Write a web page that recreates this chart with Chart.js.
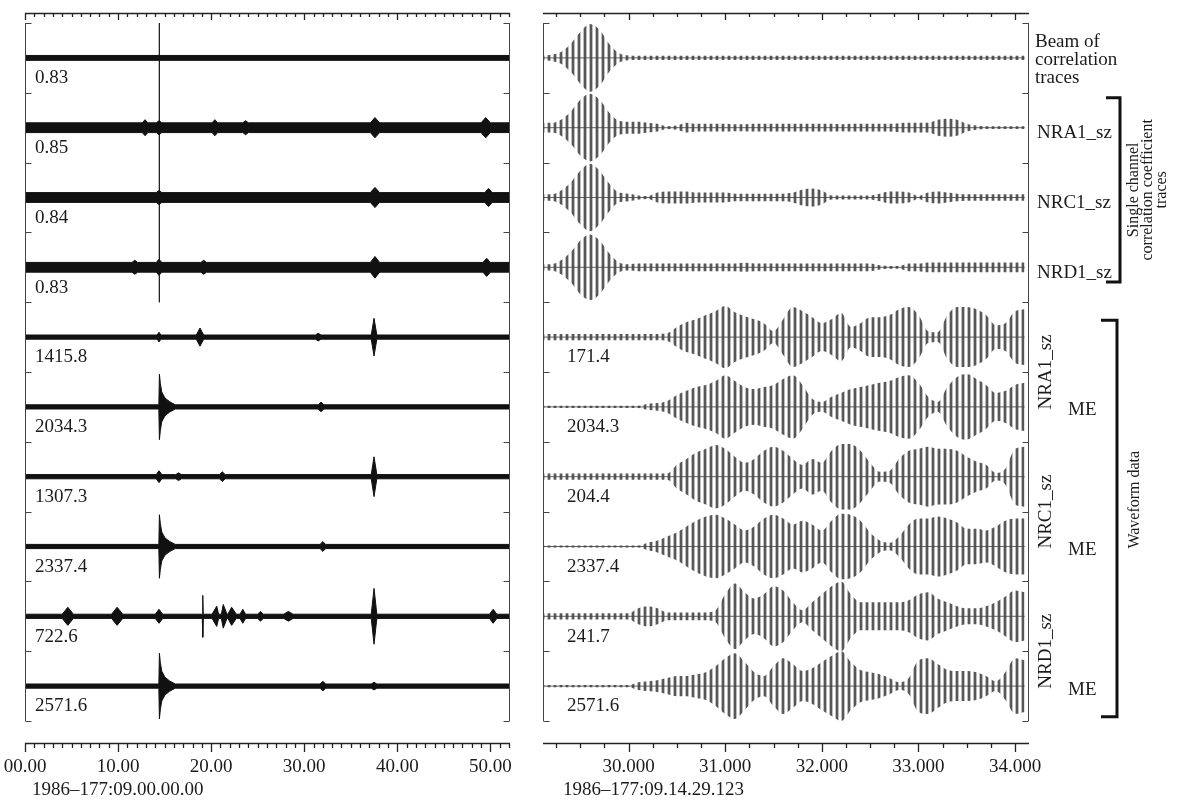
<!DOCTYPE html>
<html>
<head>
<meta charset="utf-8">
<title>Correlation detector traces</title>
<script src="https://cdn.jsdelivr.net/npm/chart.js@4.4.1/dist/chart.umd.min.js"></script>
<style>
  html, body { margin: 0; padding: 0; background: #fff; }
  #wrap { position: relative; width: 1177px; height: 802px; overflow: hidden; }
  canvas { position: absolute; top: 0; }
  #left { left: 0; }
  #right { left: 530px; }
</style>
</head>
<body>
<div id="wrap">
  <canvas id="left" width="530" height="802"></canvas>
  <canvas id="right" width="647" height="802"></canvas>
</div>
<script>

// ---- data: left panel (52 s overview), rows top to bottom ----
const leftLabels = ['0.83', '0.85', '0.84', '0.83', '1415.8', '2034.3', '1307.3', '2337.4', '722.6', '2571.6'];
const leftDate = '1986\u2013177:09.00.00.00';
// background noise level per row (percent of half a row)
const leftNoise = [7, 14, 14, 14, 6, 6, 6, 6, 6, 6];
// short bursts per row: [time, peak amplitude, half width]
const leftBursts = [
    [],
    [[12.9, 23, 0.3], [14.4, 20, 0.3], [20.4, 23, 0.3], [23.7, 20, 0.3], [37.6, 29, 0.5], [49.5, 29, 0.5]],
    [[14.4, 20, 0.3], [37.6, 29, 0.5], [49.8, 26, 0.4]],
    [[11.8, 20, 0.3], [14.4, 23, 0.3], [19.2, 20, 0.3], [37.6, 31, 0.5], [49.6, 26, 0.4]],
    [[14.4, 14, 0.2], [18.8, 26, 0.4], [31.5, 11, 0.3], [37.5, 54, 0.3]],
    [[31.8, 14, 0.3]],
    [[14.4, 17, 0.3], [16.5, 11, 0.3], [21.2, 14, 0.3], [37.5, 57, 0.3]],
    [[32.0, 14, 0.3]],
    [[4.6, 26, 0.6], [9.9, 26, 0.6], [14.4, 20, 0.4], [19.1, 60, 0.05], [20.6, 29, 0.5], [21.3, 34, 0.5],
     [22.2, 26, 0.5], [23.4, 20, 0.3], [25.3, 14, 0.3], [28.3, 14, 0.5], [37.5, 80, 0.3], [50.3, 20, 0.4]],
    [[32.0, 14, 0.3], [37.5, 11, 0.3]]
];
// event onsets per row: [time, peak amplitude]
const leftOnsets = [[], [], [], [], [], [[14.44, 94]], [], [[14.44, 91]], [], [[14.44, 94]]];
// decay of an onset, read from the 2034.3 row: [time after onset, fraction of peak]
const onsetShape = [[-0.06, 0], [0, 1], [0.1, 0.7], [0.25, 0.42], [0.6, 0.22], [1.1, 0.1], [1.7, 0]];
const markerTime = 14.44;
const markerRows = [0, 4];

// ---- data: right panel (zoom on the detection), envelope in percent of half a row ----
const rightLabels = ['', '', '', '', '171.4', '2034.3', '204.4', '2337.4', '241.7', '2571.6'];
const rightDate = '1986\u2013177:09.14.29.123';
const rightTimes = [29.1, 29.2, 29.3, 29.4, 29.5, 29.6, 29.7, 29.8, 29.9, 30.0,
    30.1, 30.2, 30.3, 30.4, 30.5, 30.6, 30.7, 30.8, 30.9, 31.0,
    31.1, 31.2, 31.3, 31.4, 31.5, 31.6, 31.7, 31.8, 31.9, 32.0,
    32.1, 32.2, 32.3, 32.4, 32.5, 32.6, 32.7, 32.8, 32.9, 33.0,
    33.1, 33.2, 33.3, 33.4, 33.5, 33.6, 33.7, 33.8, 33.9, 34.0, 34.1];
const beamEnv = [6, 9, 17, 40, 74, 97, 80, 40, 14, 7, 6, 6, 6, 6, 6, 6, 6, 6, 6, 6,
    6, 6, 6, 6, 6, 6, 6, 6, 6, 6, 6, 6, 6, 6, 6, 6, 6, 6, 6, 6, 6, 6, 6, 6, 6, 6, 6, 6, 6, 6, 6];
const nra1CorrEnv = [14, 14, 23, 46, 80, 97, 80, 43, 20, 17, 17, 14, 11, 4, 6, 14, 11, 11, 11, 11,
    10, 10, 11, 11, 11, 11, 11, 11, 11, 11, 11, 10, 11, 11, 11, 11, 11, 13, 14, 14,
    14, 23, 26, 23, 11, 6, 4, 4, 4, 4, 4];
const nrc1CorrEnv = [9, 9, 20, 43, 77, 97, 77, 40, 14, 11, 6, 4, 14, 17, 17, 17, 14, 14, 14, 14,
    11, 11, 11, 11, 11, 11, 14, 23, 26, 20, 6, 6, 6, 6, 6, 11, 17, 17, 14, 4,
    14, 17, 14, 11, 9, 9, 9, 9, 9, 9, 9];
const nrd1CorrEnv = [9, 9, 20, 43, 77, 94, 77, 40, 14, 9, 11, 11, 11, 11, 11, 11, 11, 11, 11, 11,
    11, 13, 11, 11, 11, 11, 11, 11, 11, 11, 11, 11, 11, 11, 11, 6, 4, 4, 11, 11,
    14, 14, 14, 14, 14, 14, 14, 14, 14, 14, 14];
const nra1WaveEnv = [9, 9, 9, 9, 9, 9, 9, 9, 9, 9, 9, 9, 9, 11, 29, 43, 51, 63, 74, 89,
    71, 60, 51, 40, 17, 51, 86, 74, 57, 40, 51, 69, 29, 40, 57, 57, 63, 80, 86, 63,
    17, 14, 63, 86, 86, 80, 63, 34, 40, 74, 80];
const nra1MeEnv = [3, 3, 3, 3, 3, 3, 3, 3, 3, 3, 3, 9, 11, 17, 34, 46, 57, 63, 74, 91,
    74, 57, 51, 57, 63, 80, 91, 63, 23, 14, 29, 40, 51, 57, 63, 69, 74, 86, 91, 69,
    29, 14, 57, 86, 94, 80, 63, 40, 46, 63, 69];
const nrc1WaveEnv = [9, 9, 9, 9, 9, 9, 9, 9, 9, 9, 9, 9, 9, 9, 34, 51, 69, 80, 91, 80,
    57, 40, 51, 74, 86, 74, 51, 34, 51, 40, 74, 94, 94, 74, 40, 14, 17, 51, 74, 80,
    86, 80, 80, 74, 57, 43, 34, 11, 23, 80, 86];
const nrc1MeEnv = [3, 3, 3, 3, 3, 3, 3, 3, 3, 3, 3, 11, 17, 29, 40, 57, 74, 86, 91, 80,
    63, 46, 57, 80, 91, 80, 63, 74, 63, 46, 74, 94, 91, 74, 40, 17, 11, 29, 63, 80,
    80, 86, 80, 69, 51, 51, 46, 57, 74, 80, 80];
const nrd1WaveEnv = [9, 9, 9, 9, 9, 9, 9, 9, 9, 9, 23, 29, 23, 11, 11, 11, 11, 11, 17, 63,
    94, 69, 51, 63, 86, 74, 40, 17, 40, 63, 86, 100, 63, 40, 40, 40, 40, 40, 46, 63,
    69, 51, 40, 29, 23, 23, 29, 40, 57, 74, 69];
const nrd1MeEnv = [3, 3, 3, 3, 3, 3, 3, 3, 3, 3, 11, 14, 17, 23, 29, 29, 34, 40, 57, 80,
    94, 69, 40, 29, 57, 80, 63, 43, 51, 69, 86, 100, 69, 46, 40, 34, 23, 11, 23, 74,
    80, 63, 46, 43, 43, 40, 29, 14, 40, 80, 74];
const rightEnvs = [beamEnv, nra1CorrEnv, nrc1CorrEnv, nrd1CorrEnv,
    nra1WaveEnv, nra1MeEnv, nrc1WaveEnv, nrc1MeEnv, nrd1WaveEnv, nrd1MeEnv];
const corrNames = ['NRA1_sz', 'NRC1_sz', 'NRD1_sz'];


const serif = '"Liberation Serif", "Times New Roman", serif';
const ink = '#1b1b1b';

// y axis in rows: 0 at the top of the frame, 10 at the bottom
const yMin = -0.1433, yMax = 10.3152;

function leftEnvelope(row) {
    const base = leftNoise[row];
    const pts = [[0, base], [52, base]];
    leftBursts[row].forEach(([t, a, w]) => pts.push([t - w, base], [t, a], [t + w, base]));
    leftOnsets[row].forEach(([t, a]) => {
        onsetShape.forEach(([dt, f]) => pts.push([t + dt, base + (a - base) * f]));
    });
    return pts.sort((p, q) => p[0] - q[0]);
}

function band(pts, row, fillStyle, line, smooth) {
    const c = row + 0.5;
    const common = { pointRadius: 0, borderWidth: line ? 1 : 0, borderColor: line || 'rgba(0,0,0,0)',
        tension: 0, cubicInterpolationMode: smooth ? 'monotone' : 'default' };
    return [
        Object.assign({ data: pts.map(([t, a]) => ({ x: t, y: c - a / 200 })), fill: '+1', backgroundColor: fillStyle }, common),
        Object.assign({ data: pts.map(([t, a]) => ({ x: t, y: c + a / 200 })), fill: false }, common)
    ];
}

// frame, time axes and row labels
const decor = {
    id: 'decor',
    afterDatasetsDraw(chart, args, opts) {
        const { ctx, chartArea: a, scales: { x, y } } = chart;
        ctx.save();
        ctx.strokeStyle = '#222';
        ctx.lineWidth = 1.3;
        ctx.beginPath();
        ctx.moveTo(a.left, a.top + 0.5); ctx.lineTo(a.right + 1, a.top + 0.5);
        ctx.moveTo(a.left, a.bottom + 0.5); ctx.lineTo(a.right + 1, a.bottom + 0.5);
        x.ticks.forEach(t => {
            const px = Math.round(x.getPixelForValue(t.value)) + 0.5;
            const major = t.label !== '';
            ctx.moveTo(px, a.top); ctx.lineTo(px, a.top + (major ? 7 : 4));
            ctx.moveTo(px, a.bottom); ctx.lineTo(px, a.bottom + (major ? 9 : 5));
        });
        ctx.stroke();

        ctx.lineWidth = 1;
        ctx.strokeStyle = '#444';
        const y0 = y.getPixelForValue(0), y1 = y.getPixelForValue(10);
        const l = Math.round(a.left) + 0.5, r = Math.round(a.right) + 0.5;
        ctx.beginPath();
        ctx.moveTo(l, y0); ctx.lineTo(l, y1);
        ctx.moveTo(r, y0); ctx.lineTo(r, y1);
        for (let k = 0; k <= 10; k++) {
            const py = Math.round(y.getPixelForValue(k)) + 0.5;
            ctx.moveTo(l, py); ctx.lineTo(l + 6, py);
            ctx.moveTo(r, py); ctx.lineTo(r - 6, py);
        }
        ctx.stroke();

        ctx.fillStyle = ink;
        ctx.font = '19px ' + serif;
        ctx.textBaseline = 'middle';
        ctx.textAlign = 'left';
        opts.labels.forEach((txt, i) => {
            if (txt) ctx.fillText(txt, a.left + opts.labelDx, y.getPixelForValue(i + 0.79));
        });
        ctx.fillText(opts.date, a.left + opts.dateDx, a.bottom + 47);
        ctx.restore();
    }
};

function vtext(ctx, txt, x, y) {
    ctx.save();
    ctx.translate(x, y);
    ctx.rotate(-Math.PI / 2);
    ctx.textAlign = 'center';
    ctx.textBaseline = 'middle';
    ctx.fillText(txt, 0, 0);
    ctx.restore();
}

// names and brackets to the right of the zoom panel
const annotations = {
    id: 'annotations',
    afterDraw(chart) {
        const { ctx, chartArea: a, scales: { y } } = chart;
        const R = a.right;
        ctx.save();
        ctx.fillStyle = ink;
        ctx.font = '19px ' + serif;
        ctx.textBaseline = 'middle';
        ctx.textAlign = 'left';
        ['Beam of', 'correlation', 'traces'].forEach((t, k) => {
            ctx.fillText(t, R + 7, y.getPixelForValue(0.27 + k * 0.26));
        });
        corrNames.forEach((n, k) => ctx.fillText(n, R + 9, y.getPixelForValue(k + 1.58)));
        [5.55, 7.55, 9.55].forEach(v => ctx.fillText('ME', R + 40, y.getPixelForValue(v)));
        corrNames.forEach((n, k) => vtext(ctx, n, R + 18, y.getPixelForValue(5 + 2 * k)));

        ctx.strokeStyle = '#111';
        ctx.lineWidth = 3;
        ctx.beginPath();
        let t0 = y.getPixelForValue(1.07), t1 = y.getPixelForValue(3.71);
        ctx.moveTo(R + 78, t0); ctx.lineTo(R + 92, t0); ctx.lineTo(R + 92, t1); ctx.lineTo(R + 78, t1);
        t0 = y.getPixelForValue(4.26); t1 = y.getPixelForValue(9.94);
        ctx.moveTo(R + 73, t0); ctx.lineTo(R + 89, t0); ctx.lineTo(R + 89, t1); ctx.lineTo(R + 73, t1);
        ctx.stroke();

        ctx.font = '16px ' + serif;
        const mid = y.getPixelForValue(2.39);
        ['Single channel', 'correlation coefficient', 'traces'].forEach((t, k) => vtext(ctx, t, R + 106 + k * 14, mid));
        vtext(ctx, 'Waveform data', R + 107, y.getPixelForValue(6.83));
        ctx.restore();
    }
};

function baseOptions(xMin, xMax, step, fmt, pad, dateDx, labels, date, labelDx) {
    return {
        animation: false,
        responsive: false,
        events: [],
        layout: { padding: pad },
        plugins: {
            legend: { display: false },
            tooltip: { enabled: false },
            decor: { labels: labels, date: date, dateDx: dateDx, labelDx: labelDx }
        },
        scales: {
            x: {
                type: 'linear', min: xMin, max: xMax,
                grid: { display: false, drawTicks: false },
                border: { display: false },
                ticks: { stepSize: step, includeBounds: false, autoSkip: false, maxRotation: 0,
                    padding: 13, color: ink, font: { family: serif, size: 19 }, callback: fmt },
                afterFit(s) {
                    s.height = 59;
                    s.paddingLeft = 0;
                    s.paddingRight = 0;
                }
            },
            y: { type: 'linear', display: false, reverse: true, min: yMin, max: yMax }
        }
    };
}

// ---- left chart ----
const leftSets = [];
leftLabels.forEach((_, row) => leftSets.push(...band(leftEnvelope(row), row, '#111', '#111', false)));
leftSets.push({ data: [{ x: markerTime, y: markerRows[0] }, { x: markerTime, y: markerRows[1] }],
    borderColor: '#222', borderWidth: 1, pointRadius: 0, fill: false });

new Chart(document.getElementById('left').getContext('2d'), {
    type: 'line',
    data: { datasets: leftSets },
    options: baseOptions(0, 52, 1,
        v => (v % 10 === 0 ? (v < 10 ? '0' : '') + v + '.00' : ''),
        { left: 25, right: 21, top: 13, bottom: 0 }, 7, leftLabels, leftDate, 10),
    plugins: [decor]
});

// ---- right chart ----
const rctx = document.getElementById('right').getContext('2d');
const tile = document.createElement('canvas');
tile.width = 6; tile.height = 2;
const tctx = tile.getContext('2d');
tctx.fillStyle = 'rgba(70,70,70,0.9)';
tctx.fillRect(0, 0, 2, 2);
tctx.fillStyle = 'rgba(70,70,70,0.35)';
tctx.fillRect(2, 0, 1, 2);
tctx.fillRect(5, 0, 1, 2);
const wiggle = rctx.createPattern(tile, 'repeat');

const rightSets = [];
rightEnvs.forEach((env, row) => {
    rightSets.push(...band(rightTimes.map((t, k) => [t, env[k]]), row, wiggle, null, true));
    rightSets.push({ data: [{ x: rightTimes[0], y: row + 0.5 }, { x: rightTimes[rightTimes.length - 1], y: row + 0.5 }],
        borderColor: 'rgba(70,70,70,0.85)', borderWidth: 1, pointRadius: 0, fill: false });
});

new Chart(rctx, {
    type: 'line',
    data: { datasets: rightSets },
    options: baseOptions(29.114, 34.134, 0.25,
        v => (Math.abs(v - Math.round(v)) < 1e-6 ? Math.round(v).toFixed(3) : ''),
        { left: 13, right: 149, top: 13, bottom: 0 }, 20, rightLabels, rightDate, 24),
    plugins: [decor, annotations]
});
</script>
</body>
</html>
